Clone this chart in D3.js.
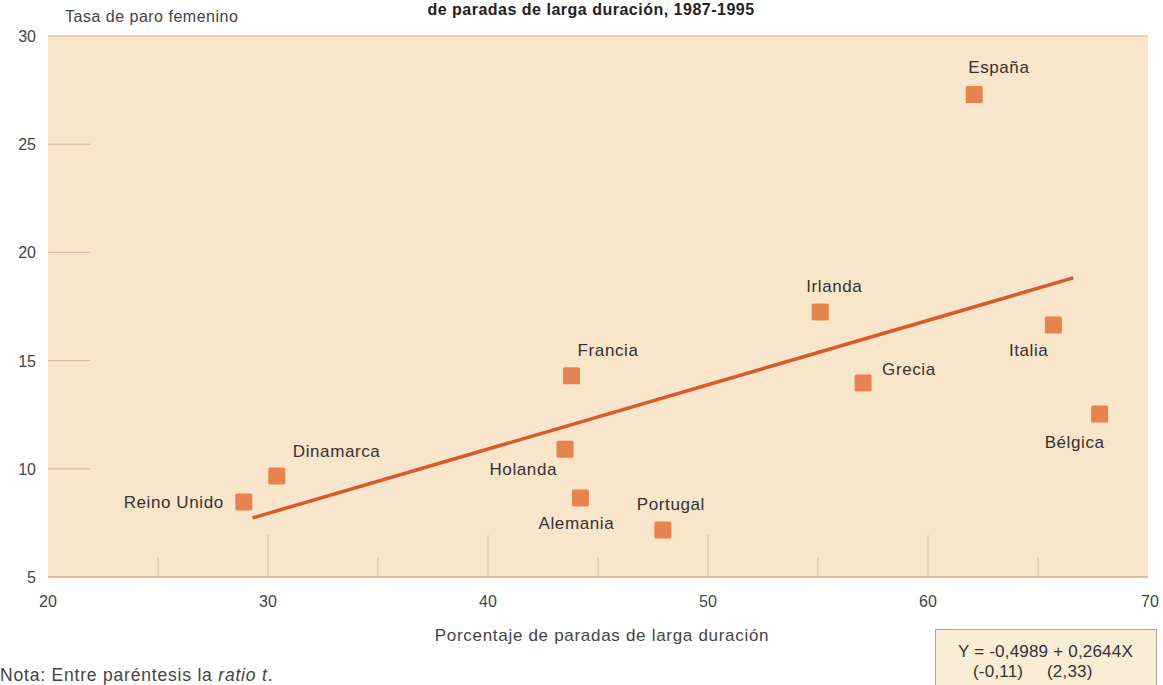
<!DOCTYPE html>
<html>
<head>
<meta charset="utf-8">
<script src="https://cdn.jsdelivr.net/npm/d3@7"></script>
<style>
  body { margin: 0; background: #fff; }
  text { font-family: "Liberation Sans", Arial, sans-serif; }
</style>
</head>
<body>
<div id="chart"></div>
<script>
// data
const countries = ['Reino Unido', 'Dinamarca', 'Holanda', 'Alemania', 'Francia', 'Portugal',
  'Irlanda', 'Grecia', 'España', 'Italia', 'Bélgica'];
const longTermShare = [28.9, 30.4, 43.5, 44.2, 43.8, 47.95, 55.1, 57.05, 62.1, 65.7, 67.8];
const femaleUnemployment = [8.47, 9.67, 10.9, 8.65, 14.3, 7.17, 17.25, 13.96, 27.3, 16.65, 12.53];
const fitX = [29.3, 66.6];
const fitY = [7.73, 18.82];
const xTicks = [20, 30, 40, 50, 60, 70];
const yTicks = [5, 10, 15, 20, 25, 30];

// label placement (px offsets from each marker)
const labelPos = {
  'Reino Unido': [-20, 6, 'end'],
  'Dinamarca': [16, -19, 'start'],
  'Holanda': [-8, 26, 'end'],
  'Alemania': [-4, 31, 'middle'],
  'Francia': [6, -20, 'start'],
  'Portugal': [8, -20, 'middle'],
  'Irlanda': [-14, -20, 'start'],
  'Grecia': [19, -8, 'start'],
  'España': [-6, -21, 'start'],
  'Italia': [-5, 31, 'end'],
  'Bélgica': [5, 34, 'end']
};

const width = 1163, height = 685;
const svg = d3.select('#chart').append('svg')
  .attr('width', width)
  .attr('height', height);

const x = d3.scaleLinear().domain([20, 70]).range([48, 1148]);
const y = d3.scaleLinear().domain([5, 30]).range([577, 36]);

// plot background
svg.append('rect')
  .attr('x', x(20)).attr('y', y(30))
  .attr('width', x(70) - x(20)).attr('height', y(5) - y(30))
  .attr('fill', '#f9e5c9');

svg.append('line')
  .attr('x1', x(20)).attr('x2', x(70))
  .attr('y1', y(30)).attr('y2', y(30))
  .attr('stroke', '#dccdb6').attr('stroke-width', 1.5);
svg.append('line')
  .attr('x1', x(20)).attr('x2', x(70))
  .attr('y1', y(5)).attr('y2', y(5))
  .attr('stroke', '#e2aa80').attr('stroke-width', 1.5);

// short tick marks inside the plot
svg.selectAll('line.ytick')
  .data(yTicks.filter(d => d > 5 && d < 30))
  .enter().append('line')
  .attr('class', 'ytick')
  .attr('x1', x(20)).attr('x2', x(20) + 42)
  .attr('y1', d => y(d)).attr('y2', d => y(d))
  .attr('stroke', '#d2b497').attr('stroke-width', 1);

svg.selectAll('line.xtick')
  .data(d3.range(25, 70, 5))
  .enter().append('line')
  .attr('class', 'xtick')
  .attr('x1', d => x(d)).attr('x2', d => x(d))
  .attr('y1', d => y(5) - (d % 10 === 0 ? 42 : 20)).attr('y2', y(5))
  .attr('stroke', '#cdbca8').attr('stroke-width', 1);

// axis tick labels
svg.selectAll('text.ylab')
  .data(yTicks)
  .enter().append('text')
  .attr('class', 'ylab')
  .attr('x', 36).attr('y', d => y(d) + 6)
  .attr('text-anchor', 'end')
  .style('font-size', '16px').style('fill', '#444')
  .text(d => d);

svg.selectAll('text.xlab')
  .data(xTicks)
  .enter().append('text')
  .attr('class', 'xlab')
  .attr('x', d => x(d) + (d === 70 ? 2 : 0)).attr('y', 607)
  .attr('text-anchor', 'middle')
  .style('font-size', '16px').style('fill', '#444')
  .text(d => d);

// titles
svg.append('text')
  .attr('x', 591).attr('y', 15)
  .attr('text-anchor', 'middle')
  .style('font-size', '16px').style('font-weight', 'bold').style('fill', '#222')
  .style('letter-spacing', '0.5px')
  .text('de paradas de larga duración, 1987-1995');

svg.append('text')
  .attr('x', 65).attr('y', 22)
  .style('font-size', '16px').style('fill', '#444')
  .style('letter-spacing', '0.5px')
  .text('Tasa de paro femenino');

svg.append('text')
  .attr('x', 602).attr('y', 641)
  .attr('text-anchor', 'middle')
  .style('font-size', '17px').style('fill', '#444')
  .style('letter-spacing', '0.7px')
  .text('Porcentaje de paradas de larga duración');

// regression line
svg.append('line')
  .attr('x1', x(fitX[0])).attr('y1', y(fitY[0]))
  .attr('x2', x(fitX[1])).attr('y2', y(fitY[1]))
  .attr('stroke', '#d9592c').attr('stroke-width', 3.5);

// markers
const pts = countries.map((c, i) => ({ name: c, vx: longTermShare[i], vy: femaleUnemployment[i] }));
svg.selectAll('rect.pt')
  .data(pts)
  .enter().append('rect')
  .attr('class', 'pt')
  .attr('x', d => x(d.vx) - 8.5).attr('y', d => y(d.vy) - 8.5)
  .attr('width', 17).attr('height', 17)
  .attr('rx', 1.5)
  .attr('fill', '#e6834f');

svg.selectAll('text.pt')
  .data(pts)
  .enter().append('text')
  .attr('class', 'pt')
  .attr('x', d => x(d.vx) + labelPos[d.name][0])
  .attr('y', d => y(d.vy) + labelPos[d.name][1])
  .attr('text-anchor', d => labelPos[d.name][2])
  .style('font-size', '17px').style('fill', '#333')
  .style('letter-spacing', '0.6px')
  .text(d => d.name);

// equation box
svg.append('rect')
  .attr('x', 935.5).attr('y', 629.5)
  .attr('width', 221).attr('height', 60)
  .attr('fill', '#fbecd6').attr('stroke', '#b8a48e').attr('stroke-width', 1);
svg.append('text')
  .attr('x', 958).attr('y', 657)
  .style('font-size', '17px').style('fill', '#333')
  .style('letter-spacing', '0.2px')
  .text('Y = -0,4989 + 0,2644X');
svg.append('text')
  .attr('x', 973).attr('y', 677)
  .style('font-size', '17px').style('fill', '#333')
  .style('letter-spacing', '0.2px')
  .text('(-0,11)');
svg.append('text')
  .attr('x', 1047).attr('y', 677)
  .style('font-size', '17px').style('fill', '#333')
  .style('letter-spacing', '0.2px')
  .text('(2,33)');

// note
const note = svg.append('text')
  .attr('x', 0).attr('y', 681)
  .style('font-size', '17.5px').style('fill', '#444')
  .style('letter-spacing', '0.8px');
note.append('tspan').text('Nota: Entre paréntesis la ');
note.append('tspan').style('font-style', 'italic').text('ratio t');
note.append('tspan').text('.');
</script>
</body>
</html>
